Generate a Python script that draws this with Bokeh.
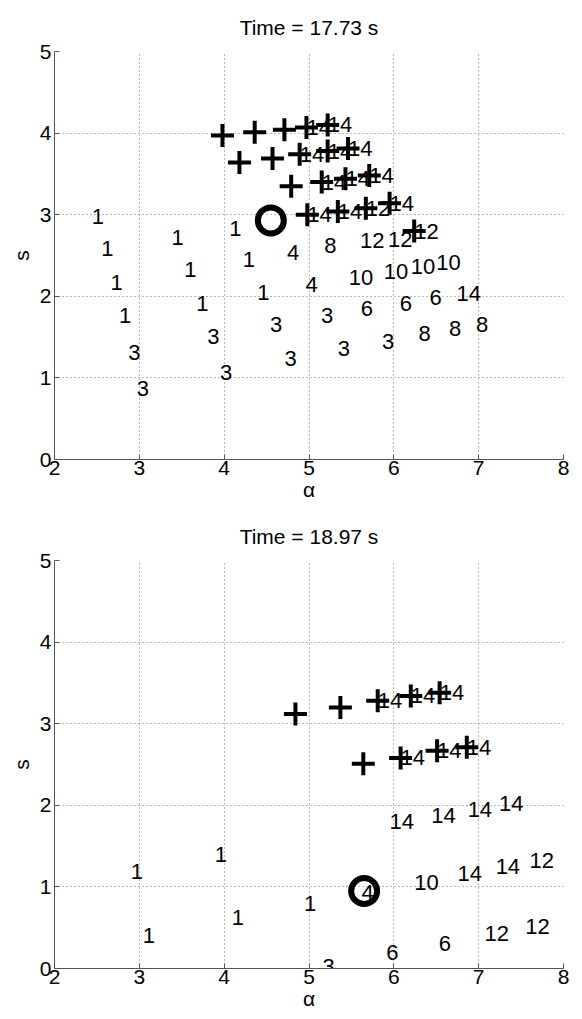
from bokeh.plotting import figure
from bokeh.layouts import column
from bokeh.models import Range1d, FixedTicker, ColumnDataSource
from bokeh.core.properties import value
from bokeh.embed import file_html
from bokeh.resources import INLINE

FONT = "Liberation Sans"

x_ticks = [2, 3, 4, 5, 6, 7, 8]
y_ticks = [0, 1, 2, 3, 4, 5]
x_label = "α"
y_label = "s"

# ---------------- panel 1 ----------------
title_1 = "Time = 17.73 s"
lab1_text = ["1", "1", "1", "1", "3", "3", "1", "1", "1", "3", "3", "1", "1", "1",
             "3", "3", "4", "4", "3", "3", "8", "10", "6", "3", "12", "12", "10",
             "6", "8", "10", "6", "8", "10", "14", "8",
             "14", "14", "14", "14", "14", "14", "14", "14", "14", "14", "12", "14", "12"]
lab1_x = [2.44, 2.55, 2.66, 2.76, 2.87, 2.97, 3.38, 3.53, 3.67, 3.80, 3.95, 4.06, 4.22, 4.39,
          4.54, 4.71, 4.74, 4.96, 5.14, 5.34, 5.18, 5.47, 5.61, 5.86, 5.60, 5.93, 5.88,
          6.07, 6.29, 6.20, 6.42, 6.65, 6.50, 6.74, 6.97,
          4.97, 5.22, 4.89, 5.22, 5.46, 5.15, 5.43, 5.71, 4.98, 5.34, 5.67, 5.95, 6.24]
lab1_y = [2.98, 2.58, 2.17, 1.76, 1.31, 0.87, 2.72, 2.33, 1.91, 1.51, 1.07, 2.83, 2.45, 2.05,
          1.65, 1.24, 2.54, 2.14, 1.76, 1.36, 2.62, 2.23, 1.85, 1.45, 2.68, 2.70, 2.30,
          1.91, 1.54, 2.36, 1.98, 1.60, 2.41, 2.03, 1.65,
          4.07, 4.10, 3.74, 3.78, 3.81, 3.40, 3.44, 3.48, 3.00, 3.04, 3.08, 3.14, 2.80]
plus1_x = [3.98, 4.36, 4.71, 4.97, 5.22,
           4.18, 4.57, 4.89, 5.22, 5.46,
           4.79, 5.15, 5.43, 5.71,
           4.98, 5.34, 5.67, 5.95,
           6.24]
plus1_y = [3.97, 4.01, 4.04, 4.07, 4.10,
           3.64, 3.69, 3.74, 3.78, 3.81,
           3.35, 3.40, 3.44, 3.48,
           3.00, 3.04, 3.08, 3.14,
           2.80]
circ1_x = [4.55]
circ1_y = [2.93]

# ---------------- panel 2 ----------------
title_2 = "Time = 18.97 s"
lab2_text = ["1", "1", "1", "1", "1", "3", "4", "6", "6", "10", "14", "14", "12", "12", "12",
             "14", "14", "14", "14",
             "14", "14", "14", "14", "14", "14"]
lab2_x = [2.90, 3.04, 3.89, 4.09, 4.94, 5.16, 5.62, 5.91, 6.53, 6.24, 6.75, 7.20, 7.60, 7.07, 7.55,
          5.95, 6.44, 6.87, 7.24,
          5.81, 6.20, 6.54, 6.08, 6.51, 6.86]
lab2_y = [1.19, 0.40, 1.40, 0.63, 0.80, 0.03, 0.93, 0.20, 0.31, 1.06, 1.17, 1.25, 1.32, 0.43, 0.52,
          1.80, 1.88, 1.95, 2.02,
          3.28, 3.34, 3.38, 2.58, 2.67, 2.71]
plus2_x = [4.84, 5.37, 5.81, 6.20, 6.54,
           5.64, 6.08, 6.51, 6.86]
plus2_y = [3.12, 3.20, 3.28, 3.34, 3.38,
           2.51, 2.58, 2.67, 2.71]
circ2_x = [5.65]
circ2_y = [0.95]


def make_panel(title, lt, lx, ly, px, py, cx, cy, height, btop, bbot):
    p = figure(width=582, height=height, output_backend="svg", toolbar_location=None,
               x_range=Range1d(2, 8), y_range=Range1d(0, 5),
               min_border_left=54, min_border_right=19,
               min_border_top=btop, min_border_bottom=bbot,
               background_fill_color="white", border_fill_color="white")
    p.title.text = title
    p.title.align = "center"
    p.title.text_font = FONT
    p.title.text_font_size = "21px"
    p.title.text_font_style = "normal"
    p.title.text_color = "black"
    p.title.standoff = 26
    p.outline_line_color = None

    for ax in (p.xaxis[0], p.yaxis[0]):
        ax.axis_line_color = "#555555"
        ax.major_tick_line_color = "#555555"
        ax.major_tick_in = 5
        ax.major_tick_out = 0
        ax.minor_tick_line_color = None
        ax.major_label_text_font = FONT
        ax.major_label_text_font_size = "21px"
        ax.major_label_text_color = "black"
        ax.axis_label_text_font = FONT
        ax.axis_label_text_font_size = "21px"
        ax.axis_label_text_font_style = "normal"
        ax.axis_label_text_color = "black"
    p.xaxis[0].ticker = FixedTicker(ticks=x_ticks)
    p.yaxis[0].ticker = FixedTicker(ticks=y_ticks)
    p.xaxis[0].axis_label = x_label
    p.yaxis[0].axis_label = y_label
    p.xaxis[0].major_label_standoff = 1
    p.xaxis[0].axis_label_standoff = 0
    p.yaxis[0].major_label_standoff = 3
    p.yaxis[0].axis_label_standoff = 4

    for g in (p.xgrid[0], p.ygrid[0]):
        g.grid_line_color = "#777777"
        g.grid_line_dash = "1 3"
        g.grid_line_width = 1

    src = ColumnDataSource(dict(x=lx, y=ly, t=lt))
    p.text(x="x", y="y", text="t", source=src, text_font=value(FONT),
           text_font_size="22px", text_baseline="middle", text_align="left",
           text_color="black")
    p.scatter(px, py, marker="cross", size=23, line_width=4, line_color="black")
    p.scatter(cx, cy, marker="circle", size=26, line_width=6,
              fill_color=None, line_color="black")
    return p


p1 = make_panel(title_1, lab1_text, lab1_x, lab1_y, plus1_x, plus1_y, circ1_x, circ1_y,
                509, 49, 50)
p2 = make_panel(title_2, lab2_text, lab2_x, lab2_y, plus2_x, plus2_y, circ2_x, circ2_y,
                510, 50, 51)

layout = column(p1, p2, spacing=0)
open("out.html", "w").write(file_html(layout, INLINE))
